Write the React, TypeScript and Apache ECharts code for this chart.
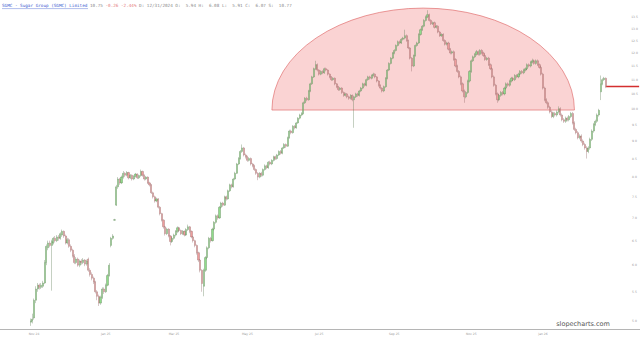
import React, { useEffect, useRef } from "react";
import * as echarts from "echarts";

// ---- calendar structure (trading days) ----
const startDate = "2024-10-07";
const slotCount = 366;
const holidays = [
  "2024-11-28", "2024-12-25", "2025-01-01", "2025-01-09", "2025-01-20", "2025-02-17",
  "2025-04-18", "2025-05-26", "2025-06-19", "2025-07-04", "2025-09-01", "2025-11-27",
  "2025-12-25", "2026-01-01", "2026-01-19", "2026-02-16", "2026-04-03",
];
const xTickDates = ["2024-11-01", "2025-01-02", "2025-03-03", "2025-05-01", "2025-07-01", "2025-09-02", "2025-11-03", "2026-01-02"];
const xTickLabels = ["Nov 24", "Jan 25", "Mar 25", "May 25", "Jul 25", "Sep 25", "Nov 25", "Jan 26"];
const yTicks = [5.0, 5.5, 6.0, 6.5, 7.0, 7.5, 8.0, 8.5, 9.0, 9.5, 10.0, 10.5, 11.0, 11.5, 12.0, 12.5, 13.0, 13.5];

// first category index holding a candle
const firstCandleIdx = 17;
// [open, close, low, high]
const ohlc: number[][] = [
  [4.98, 5.00, 4.92, 5.04], [5.00, 5.03, 4.96, 5.12], [5.05, 5.35, 5.02, 5.38], [5.35, 5.55, 5.30, 5.60],
  [5.55, 5.62, 5.50, 5.66], [5.62, 5.58, 5.54, 5.65], [5.58, 5.62, 5.55, 5.66], [5.60, 5.66, 5.57, 5.70],
  [5.66, 6.05, 5.64, 6.10], [6.05, 6.38, 6.00, 6.42], [6.35, 6.45, 6.30, 6.50], [6.45, 6.40, 6.36, 6.50],
  [6.40, 6.48, 5.52, 6.52], [6.45, 6.55, 6.42, 6.58], [6.55, 6.50, 6.46, 6.60], [6.50, 6.58, 6.47, 6.62],
  [6.58, 6.55, 6.50, 6.62], [6.55, 6.65, 6.52, 6.68], [6.62, 6.70, 6.58, 6.74], [6.70, 6.60, 6.56, 6.72],
  [6.60, 6.45, 6.42, 6.63], [6.45, 6.52, 6.42, 6.56], [6.52, 6.38, 6.35, 6.55], [6.38, 6.30, 6.26, 6.42],
  [6.30, 6.18, 6.15, 6.33], [6.18, 6.05, 6.02, 6.22], [6.05, 6.12, 6.02, 6.16], [6.12, 6.00, 5.97, 6.15],
  [6.00, 6.08, 5.96, 6.11], [6.08, 6.05, 6.01, 6.12], [6.05, 6.10, 6.02, 6.14], [6.10, 6.02, 5.98, 6.12],
  [6.02, 6.08, 5.99, 6.11], [6.12, 5.90, 5.87, 6.15], [5.90, 5.82, 5.78, 5.94], [5.82, 5.75, 5.71, 5.86],
  [5.75, 5.68, 5.64, 5.78], [5.68, 5.50, 5.47, 5.70], [5.50, 5.42, 5.35, 5.53], [5.42, 5.30, 5.25, 5.45],
  [5.30, 5.40, 5.27, 5.43], [5.40, 5.55, 5.37, 5.58], [5.55, 5.50, 5.46, 5.58], [5.50, 5.62, 5.48, 5.65],
  [5.62, 5.80, 5.60, 5.83], [5.80, 6.00, 5.78, 6.04], [6.40, 6.55, 6.36, 6.58], [6.55, 6.60, 6.52, 6.64],
  [6.95, 6.96, 6.94, 6.98], [7.30, 7.75, 7.28, 7.80], [7.75, 7.95, 7.70, 8.00], [7.95, 7.85, 7.80, 7.98],
  [7.85, 8.00, 7.82, 8.04], [8.00, 8.10, 7.96, 8.16], [8.10, 8.05, 8.00, 8.13], [8.05, 8.12, 8.02, 8.16],
  [8.12, 7.98, 7.94, 8.14], [7.98, 8.05, 7.95, 8.08], [8.05, 7.95, 7.91, 8.07], [7.95, 8.02, 7.92, 8.05],
  [8.02, 8.08, 7.99, 8.11], [8.08, 7.98, 7.95, 8.10], [7.98, 8.04, 7.95, 8.07], [8.04, 8.15, 8.01, 8.20],
  [8.15, 8.05, 8.01, 8.17], [8.05, 7.95, 7.91, 8.07], [7.95, 8.00, 7.92, 8.03], [8.00, 7.85, 7.82, 8.02],
  [7.85, 7.80, 7.76, 7.88], [7.80, 7.60, 7.57, 7.82], [7.60, 7.50, 7.46, 7.63], [7.50, 7.40, 7.36, 7.53],
  [7.40, 7.45, 7.37, 7.48], [7.45, 7.25, 7.22, 7.47], [7.25, 7.10, 7.06, 7.28], [7.10, 6.95, 6.92, 7.12],
  [6.95, 6.80, 6.76, 6.97], [6.80, 6.65, 6.61, 6.82], [6.65, 6.75, 6.62, 6.78], [6.75, 6.60, 6.57, 6.77],
  [6.60, 6.48, 6.40, 6.62], [6.48, 6.55, 6.45, 6.58], [6.55, 6.62, 6.52, 6.65], [6.62, 6.70, 6.59, 6.73],
  [6.70, 6.78, 6.66, 6.81], [6.78, 6.72, 6.68, 6.80], [6.72, 6.65, 6.62, 6.74], [6.65, 6.70, 6.62, 6.73],
  [6.70, 6.62, 6.59, 6.72], [6.62, 6.74, 6.60, 6.77], [6.74, 6.80, 6.71, 6.85], [6.80, 6.70, 6.66, 6.82],
  [6.70, 6.58, 6.55, 6.72], [6.58, 6.50, 6.46, 6.60], [6.50, 6.40, 6.36, 6.52], [6.40, 6.25, 6.21, 6.42],
  [6.25, 6.10, 6.06, 6.27], [6.10, 5.90, 5.86, 6.12], [5.90, 5.65, 5.50, 5.92], [5.60, 5.90, 5.42, 5.93],
  [5.90, 6.15, 5.87, 6.18], [6.15, 6.35, 6.12, 6.38], [6.35, 6.55, 6.32, 6.58], [6.55, 6.50, 6.46, 6.58],
  [6.50, 6.75, 6.48, 6.78], [6.75, 6.90, 6.72, 6.93], [6.90, 7.05, 6.87, 7.08], [7.05, 7.00, 6.96, 7.08],
  [7.00, 7.25, 6.98, 7.28], [7.25, 7.35, 7.22, 7.38], [7.35, 7.30, 7.26, 7.38], [7.30, 7.50, 7.28, 7.53],
  [7.50, 7.45, 7.41, 7.53], [7.45, 7.65, 7.43, 7.68], [7.65, 7.80, 7.62, 7.83], [7.80, 7.75, 7.71, 7.83],
  [7.75, 7.95, 7.73, 7.98], [7.95, 8.10, 7.92, 8.14], [8.10, 8.35, 8.08, 8.38], [8.35, 8.50, 8.32, 8.54],
  [8.50, 8.70, 8.47, 8.74], [8.70, 8.80, 8.66, 8.90], [8.80, 8.60, 8.56, 8.83], [8.60, 8.55, 8.50, 8.64],
  [8.55, 8.45, 8.41, 8.58], [8.45, 8.50, 8.42, 8.54], [8.50, 8.35, 8.31, 8.53], [8.35, 8.30, 8.26, 8.38],
  [8.30, 8.20, 8.16, 8.33], [8.20, 8.10, 8.06, 8.23], [8.10, 8.00, 7.92, 8.13], [8.00, 8.10, 7.97, 8.13],
  [8.10, 8.05, 8.01, 8.14], [8.05, 8.20, 8.02, 8.23], [8.20, 8.30, 8.17, 8.34], [8.30, 8.25, 8.21, 8.33],
  [8.25, 8.40, 8.22, 8.43], [8.40, 8.35, 8.31, 8.44], [8.35, 8.45, 8.32, 8.48], [8.45, 8.55, 8.42, 8.58],
  [8.55, 8.50, 8.46, 8.58], [8.50, 8.60, 8.47, 8.63], [8.60, 8.70, 8.57, 8.73], [8.70, 8.65, 8.61, 8.74],
  [8.65, 8.80, 8.62, 8.83], [8.80, 8.90, 8.77, 8.94], [8.90, 8.85, 8.80, 8.93], [8.85, 9.10, 8.83, 9.13],
  [9.10, 9.30, 9.07, 9.34], [9.30, 9.25, 9.20, 9.34], [9.25, 9.45, 9.22, 9.48], [9.45, 9.40, 9.35, 9.48],
  [9.40, 9.55, 9.37, 9.58], [9.55, 9.70, 9.52, 9.73], [9.70, 9.80, 9.66, 9.84], [9.80, 9.85, 9.76, 9.89],
  [9.85, 10.20, 9.82, 10.24], [10.20, 10.35, 10.16, 10.39], [10.35, 10.30, 10.25, 10.40], [10.30, 10.60, 10.27, 10.64],
  [10.60, 10.85, 10.56, 10.89], [10.85, 11.10, 10.81, 11.14], [11.10, 11.40, 11.06, 11.44], [11.40, 11.55, 11.35, 11.70],
  [11.55, 11.35, 11.30, 11.60], [11.35, 11.20, 11.15, 11.38], [11.20, 11.30, 11.16, 11.34], [11.30, 11.25, 11.20, 11.34],
  [11.25, 11.40, 11.21, 11.44], [11.40, 11.35, 11.30, 11.44], [11.35, 11.20, 11.15, 11.38], [11.20, 11.10, 11.05, 11.23],
  [11.10, 11.00, 10.95, 11.13], [11.00, 11.05, 10.96, 11.09], [11.05, 10.85, 10.80, 11.08], [10.85, 10.75, 10.70, 10.88],
  [10.75, 10.65, 10.60, 10.78], [10.65, 10.70, 10.61, 10.74], [10.70, 10.55, 10.50, 10.73], [10.55, 10.45, 10.40, 10.58],
  [10.45, 10.50, 10.41, 10.54], [10.50, 10.40, 10.35, 10.53], [10.40, 10.35, 10.30, 10.44], [10.35, 10.45, 10.31, 10.49],
  [10.45, 10.30, 10.25, 10.48], [10.30, 10.40, 9.40, 10.44], [10.40, 10.50, 10.36, 10.54], [10.50, 10.45, 10.40, 10.54],
  [10.45, 10.60, 10.41, 10.64], [10.60, 10.70, 10.56, 10.74], [10.70, 10.85, 10.66, 10.89], [10.85, 10.80, 10.75, 10.89],
  [10.80, 11.00, 10.76, 11.04], [11.00, 11.10, 10.96, 11.14], [11.10, 11.05, 11.00, 11.14], [11.05, 11.15, 11.01, 11.19],
  [11.15, 11.20, 11.11, 11.25], [11.20, 11.10, 11.05, 11.23], [11.10, 10.95, 10.90, 11.13], [10.95, 10.80, 10.75, 10.98],
  [10.80, 10.70, 10.65, 10.83], [10.70, 10.60, 10.55, 10.73], [10.60, 10.75, 10.56, 10.79], [10.75, 11.05, 10.71, 11.09],
  [11.05, 11.35, 11.01, 11.39], [11.35, 11.60, 11.31, 11.64], [11.60, 11.80, 11.56, 11.84], [11.80, 12.00, 11.76, 12.04],
  [12.00, 12.10, 11.95, 12.15], [12.10, 12.30, 12.06, 12.34], [12.30, 12.45, 12.26, 12.50], [12.45, 12.40, 12.35, 12.50],
  [12.40, 12.55, 12.36, 12.60], [12.55, 12.60, 12.50, 12.65], [12.60, 12.70, 12.55, 12.95], [12.70, 12.50, 12.45, 12.75],
  [12.50, 12.20, 12.15, 12.54], [12.20, 11.80, 11.75, 12.24], [11.80, 11.50, 11.30, 11.84], [11.50, 11.90, 11.46, 11.94],
  [11.90, 12.30, 11.86, 12.34], [12.30, 12.40, 12.25, 12.45], [12.40, 12.75, 12.36, 12.80], [12.75, 12.95, 12.70, 13.00],
  [12.95, 13.10, 12.90, 13.15], [13.10, 13.35, 13.05, 13.40], [13.35, 13.50, 13.30, 13.56], [13.50, 13.60, 13.45, 13.80],
  [13.60, 13.35, 13.30, 13.65], [13.35, 13.20, 13.15, 13.40], [13.20, 13.25, 13.15, 13.30], [13.25, 13.05, 13.00, 13.30],
  [13.05, 13.10, 13.00, 13.15], [13.10, 12.85, 12.80, 13.14], [12.85, 12.70, 12.65, 12.90], [12.70, 12.75, 12.65, 12.80],
  [12.75, 12.50, 12.45, 12.80], [12.50, 12.35, 12.30, 12.55], [12.35, 12.40, 12.30, 12.45], [12.40, 12.15, 12.10, 12.45],
  [12.15, 12.00, 11.95, 12.20], [12.00, 12.05, 11.95, 12.10], [12.05, 11.75, 11.70, 12.10], [11.75, 11.50, 11.45, 11.80],
  [11.50, 11.30, 11.25, 11.55], [11.30, 11.10, 11.05, 11.35], [11.10, 10.85, 10.80, 11.15], [10.85, 10.60, 10.55, 10.90],
  [10.60, 10.40, 10.20, 10.65], [10.40, 10.55, 10.35, 10.60], [10.55, 10.95, 10.50, 11.00], [10.95, 11.30, 10.90, 11.35],
  [11.30, 11.70, 11.25, 11.75], [11.70, 11.85, 11.65, 11.90], [11.85, 11.95, 11.80, 12.00], [11.95, 12.05, 11.90, 12.12],
  [12.05, 11.95, 11.90, 12.10], [11.95, 12.10, 11.90, 12.15], [12.10, 12.00, 11.95, 12.15], [12.00, 11.90, 11.85, 12.05],
  [11.90, 11.75, 11.70, 11.95], [11.75, 11.80, 11.70, 11.85], [11.80, 11.55, 11.50, 11.85], [11.55, 11.40, 11.35, 11.60],
  [11.40, 11.10, 11.05, 11.45], [11.10, 10.80, 10.75, 11.15], [10.80, 10.50, 10.45, 10.85], [10.50, 10.30, 10.20, 10.55],
  [10.30, 10.45, 10.25, 10.50], [10.45, 10.55, 10.40, 10.60], [10.55, 10.50, 10.45, 10.60], [10.50, 10.70, 10.45, 10.75],
  [10.70, 10.85, 10.65, 10.90], [10.85, 10.80, 10.75, 10.90], [10.80, 10.95, 10.75, 11.00], [10.95, 11.05, 10.90, 11.10],
  [11.05, 11.00, 10.95, 11.10], [11.00, 11.15, 10.95, 11.20], [11.15, 11.10, 11.05, 11.20], [11.10, 11.20, 11.05, 11.25],
  [11.20, 11.30, 11.15, 11.35], [11.30, 11.25, 11.20, 11.35], [11.25, 11.35, 11.20, 11.40], [11.35, 11.40, 11.30, 11.45],
  [11.40, 11.55, 11.35, 11.60], [11.55, 11.50, 11.45, 11.60], [11.50, 11.65, 11.45, 11.70], [11.65, 11.70, 11.60, 11.78],
  [11.70, 11.60, 11.55, 11.75], [11.60, 11.70, 11.55, 11.75], [11.70, 11.55, 11.50, 11.75], [11.55, 11.45, 11.40, 11.60],
  [11.45, 11.20, 11.15, 11.50], [11.20, 10.70, 10.65, 11.25], [10.70, 10.30, 10.25, 10.75], [10.30, 10.20, 10.15, 10.35],
  [10.20, 10.05, 10.00, 10.25], [10.05, 9.90, 9.85, 10.10], [9.90, 9.75, 9.70, 9.95], [9.75, 9.85, 9.70, 9.90],
  [9.85, 9.80, 9.75, 9.90], [9.80, 9.90, 9.75, 9.95], [9.90, 10.00, 9.85, 10.08], [10.00, 9.80, 9.75, 10.05],
  [9.80, 9.65, 9.60, 9.85], [9.65, 9.60, 9.55, 9.70], [9.60, 9.70, 9.55, 9.75], [9.70, 9.65, 9.60, 9.75],
  [9.65, 9.75, 9.60, 9.80], [9.75, 9.85, 9.70, 9.90], [9.85, 9.55, 9.50, 9.90], [9.55, 9.35, 9.30, 9.60],
  [9.35, 9.25, 9.20, 9.40], [9.25, 9.10, 9.05, 9.30], [9.10, 9.15, 9.05, 9.20], [9.15, 9.00, 8.95, 9.20],
  [9.00, 8.90, 8.85, 9.05], [8.90, 8.80, 8.75, 8.95], [8.80, 8.70, 8.50, 8.85], [8.70, 8.80, 8.65, 8.85],
  [8.80, 9.05, 8.75, 9.10], [9.05, 9.30, 9.00, 9.35], [9.30, 9.50, 9.25, 9.55], [9.50, 9.60, 9.45, 9.65],
  [9.60, 9.80, 9.55, 9.85], [9.80, 9.95, 9.75, 10.00], [10.57, 10.85, 10.29, 11.15], [10.85, 11.00, 10.80, 11.05],
  [11.00, 11.05, 10.95, 11.10], [11.05, 10.75, 10.70, 11.08],
];
const lastPrice = 10.75;

// header quote
const ticker = "SGMC - Sugar Group (SGMC) Limited";
const quotePrice = "10.75";
const quoteChange = "-0.26 -2.44%";
const quoteDetail = "D: 12/31/2024 O:  5.94 H:  6.08 L:  5.91 C:  6.07 S:  10.77";

// semicircle annotation (category index span, base price, top price)
const arcStartIdx = 155;
const arcEndIdx = 328;
const arcBasePrice = 9.96;
const arcTopPrice = 13.9;

function buildCategories(): string[] {
  const hol = new Set(holidays);
  const out: string[] = [];
  const [y, m, d] = startDate.split("-").map(Number);
  let t = Date.UTC(y, m - 1, d);
  while (out.length < slotCount) {
    const dt = new Date(t);
    const wd = dt.getUTCDay();
    const iso = dt.toISOString().slice(0, 10);
    if (wd !== 0 && wd !== 6 && !hol.has(iso)) out.push(iso);
    t += 86400000;
  }
  return out;
}

export default function App() {
  const ref = useRef<HTMLDivElement>(null);
  useEffect(() => {
    document.body.style.margin = "0";
    if (!ref.current) return;
    const chart = echarts.init(ref.current, undefined, { renderer: "svg" });
    const categories = buildCategories();
    const labelMap: Record<string, string> = {};
    xTickDates.forEach((dt, i) => (labelMap[dt] = xTickLabels[i]));
    const seriesData = categories.map((_, i) => {
      const row = ohlc[i - firstCandleIdx];
      return row ? row : "-";
    });
    const lastIdx = firstCandleIdx + ohlc.length - 1;

    chart.setOption({
      animation: false,
      grid: { left: 0, right: 0, top: 0, bottom: 11 },
      xAxis: {
        type: "category",
        data: categories,
        boundaryGap: true,
        axisLine: { lineStyle: { color: "#b5b5b5", width: 1 } },
        axisTick: { show: false },
        splitLine: { show: false },
        axisLabel: {
          interval: (_i: number, v: string) => v in labelMap,
          formatter: (v: string) => labelMap[v] || "",
          fontSize: 3,
          color: "#999",
          margin: 3,
          fontFamily: "DejaVu Sans",
        },
      },
      yAxis: {
        type: "log",
        min: 4.87,
        max: 14.27,
        position: "right",
        axisLine: { show: false },
        axisTick: { show: false },
        axisLabel: { show: false },
        splitLine: { show: false },
      },
      series: [
        {
          type: "candlestick",
          data: seriesData,
          barWidth: 1.6,
          z: 5,
          itemStyle: {
            color: "#8fdc8a",
            color0: "#ee9c9c",
            borderColor: "#56784f",
            borderColor0: "#8b5f5f",
            borderWidth: 0.35,
          },
          markLine: {
            silent: true,
            symbol: ["none", "none"],
            label: { show: false },
            lineStyle: { color: "#d42f2f", width: 1.3, type: "solid" },
            data: [[{ coord: [lastIdx, lastPrice] }, { coord: [slotCount - 1, lastPrice] }]],
          },
        },
      ],
    });

    const p0 = chart.convertToPixel({ seriesIndex: 0 }, [arcStartIdx, arcBasePrice]) as number[];
    const p1 = chart.convertToPixel({ seriesIndex: 0 }, [arcEndIdx, arcBasePrice]) as number[];
    const pt = chart.convertToPixel({ seriesIndex: 0 }, [arcStartIdx, arcTopPrice]) as number[];
    const cx = (p0[0] + p1[0]) / 2;
    const cy = p0[1];
    const rx = (p1[0] - p0[0]) / 2;
    const ry = cy - pt[1];

    const tickTexts = yTicks.map((v) => {
      const p = chart.convertToPixel({ seriesIndex: 0 }, [0, v]) as number[];
      return {
        type: "text",
        x: 634.5,
        y: p[1],
        z: 10,
        style: {
          text: v.toFixed(1),
          fontSize: 3,
          fill: "#999",
          align: "center",
          verticalAlign: "middle",
          fontFamily: "DejaVu Sans",
        },
      };
    });

    chart.setOption({
      graphic: [
        {
          type: "sector",
          x: cx,
          y: cy,
          scaleY: ry / rx,
          z: 0,
          shape: { cx: 0, cy: 0, r: rx, r0: 0, startAngle: Math.PI, endAngle: Math.PI * 2, clockwise: true },
          style: { fill: "#fad3d3", stroke: "#e06a6a", lineWidth: 0.8, strokeNoScale: true },
        },
        ...tickTexts,
        {
          type: "text",
          x: 2,
          y: 3,
          z: 10,
          style: {
            text: `{a|${ticker}} {b|${quotePrice}} {c|${quoteChange}} {b|${quoteDetail}}`,
            fontFamily: "DejaVu Sans Mono",
            fontSize: 4.3,
            rich: {
              a: { fill: "#3b5bd0", fontSize: 4.3, fontFamily: "DejaVu Sans Mono" },
              b: { fill: "#8a8a8a", fontSize: 4.3, fontFamily: "DejaVu Sans Mono" },
              c: { fill: "#e57c7c", fontSize: 4.3, fontFamily: "DejaVu Sans Mono" },
            },
          },
        },
        {
          type: "line",
          z: 10,
          shape: { x1: 2, y1: 8.6, x2: 88, y2: 8.6 },
          style: { stroke: "#3b5bd0", lineWidth: 0.4 },
        },
        {
          type: "text",
          x: 583,
          y: 324,
          z: 10,
          style: {
            text: "slopecharts.com",
            fontSize: 6.5,
            fill: "#555",
            align: "center",
            verticalAlign: "middle",
            fontFamily: "DejaVu Sans",
          },
        },
      ],
    });

    return () => chart.dispose();
  }, []);
  return <div ref={ref} style={{ width: 640, height: 340 }} />;
}
